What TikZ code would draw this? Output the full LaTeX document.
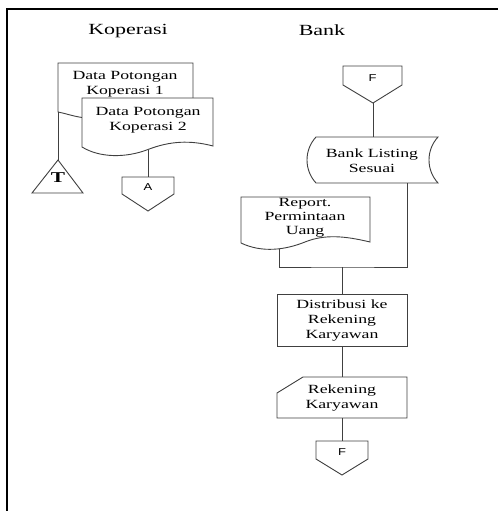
\documentclass[tikz,border=0pt]{standalone}
\usepackage{fontspec}
\setmainfont[FakeStretch=1.42]{Liberation Serif}
\newfontfamily\lettersf[FakeStretch=1.3]{Liberation Sans}
\begin{document}
\begin{tikzpicture}[x=1pt,y=-1pt,
  outline/.style={draw=black!75,line width=0.9pt,fill=white,line join=miter},
  conn/.style={draw=black!75,line width=0.9pt},
  lbl/.style={font=\fontsize{12.5}{15}\selectfont,align=center,inner sep=0pt},
  head/.style={font=\fontsize{15.5}{18}\selectfont,inner sep=0pt},
  letter/.style={font=\lettersf\fontsize{10}{12}\selectfont,inner sep=0pt}]
\useasboundingbox (0,0) rectangle (498,511);

% swimlane frame
\draw[line width=1.5pt] (7,511) -- (7,9) -- (498,9);
\node[head] (hkop) at (128,31) {Koperasi};
\node[head] (hbank) at (322,30) {Bank};

% ---- Koperasi lane ----
% document 1 (partly hidden behind document 2)
\draw[outline] (82,117.5) .. controls (72,116) and (64,113) .. (58,112)
  -- (58,63) -- (193,63) -- (193,98);
\node[lbl] (doc1) at (125,84) {Data Potongan\\Koperasi 1};
% document 2
\draw[outline] (82,98) -- (213,98) -- (213,146)
  .. controls (190,140) and (170,141) .. (148,149.5)
  .. controls (126,158) and (100,158) .. (82,147) -- cycle;
\node[lbl] (doc2) at (148,120) {Data Potongan\\Koperasi 2};
\coordinate (doc1b) at (58,112);
\coordinate (doc2b) at (148,149.5);

% file (triangle)
\draw[outline] (58,160) -- (83,193) -- (32,193) -- cycle;
\coordinate (filetop) at (58,160);
\node[font=\bfseries\fontsize{15}{18}\selectfont,inner sep=0pt] (fileT) at (58,178) {T};

% off-page connector A
\draw[outline] (122,177) -- (174,177) -- (174,194) -- (148,211) -- (122,194) -- cycle;
\coordinate (Atop) at (148,177);
\node[letter] (A) at (148,187) {A};

\draw[conn] (doc1b) -- (filetop);
\draw[conn] (doc2b) -- (Atop);

% ---- Bank lane ----
% off-page connector F (incoming)
\draw[outline] (343,66) -- (402,66) -- (402,85) -- (373,103) -- (343,85) -- cycle;
\coordinate (Fin) at (373,103);
\node[letter] (F1) at (372.5,78) {F};

% stored data
\draw[outline] (316,137) -- (438,137) .. controls (426,150) and (426,170) .. (438,183)
  -- (316,183) .. controls (304,170) and (304,150) .. (316,137) -- cycle;
\node[lbl] (bls) at (372,161) {Bank Listing\\Sesuai};
\coordinate (blstop) at (373,137);
\coordinate (blsbot) at (407,183);

% report document
\draw[outline] (241,197) -- (370,197) -- (370,242)
  .. controls (345,236) and (325,234) .. (305,242)
  .. controls (285,250) and (262,253) .. (241,243) -- cycle;
\node[lbl,font=\fontsize{12.5}{14}\selectfont] (rep) at (305,218) {Report.\\Permintaan\\Uang};
\coordinate (repb) at (279,249);
\coordinate (join) at (342,267);

% process
\draw[outline] (277,294) rectangle (407,346);
\node[lbl] (dist) at (342,321) {Distribusi ke\\Rekening\\Karyawan};
\coordinate (disttop) at (342,294);
\coordinate (distbot) at (342,346);

% manual input / card
\draw[outline] (303,377) -- (407,377) -- (407,418) -- (277,418) -- (277,393) -- cycle;
\node[lbl] (rek) at (342,398) {Rekening\\Karyawan};
\coordinate (rektop) at (342,377);
\coordinate (rekbot) at (342,418);

% off-page connector F (outgoing)
\draw[outline] (316,441) -- (368,441) -- (368,459) -- (342,475) -- (316,459) -- cycle;
\coordinate (Fout) at (342,441);
\node[letter] (F2) at (342,452) {F};

% connectors
\draw[conn] (Fin) -- (blstop);
\draw[conn] (blsbot) |- (join) -| (repb);
\draw[conn] (join) -- (disttop);
\draw[conn] (distbot) -- (rektop);
\draw[conn] (rekbot) -- (Fout);
\end{tikzpicture}
\end{document}
